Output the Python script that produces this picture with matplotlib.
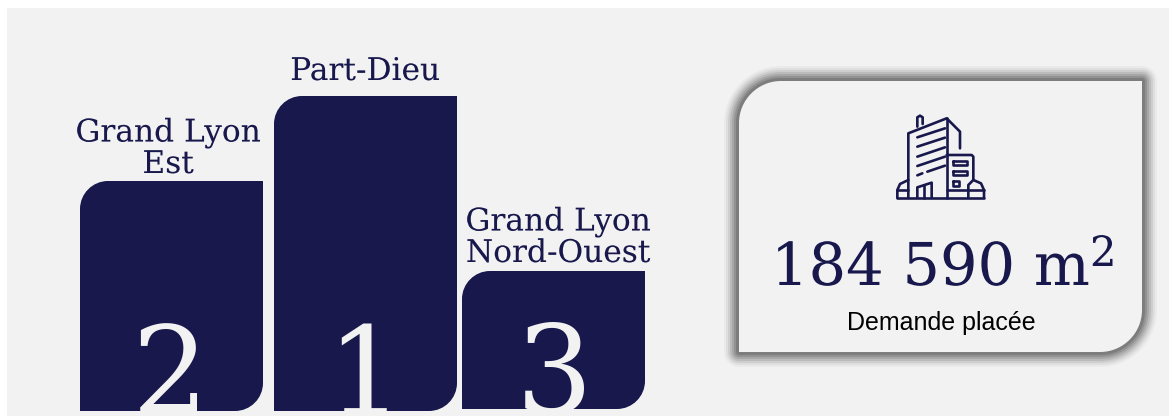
import matplotlib
matplotlib.use("Agg")
import matplotlib.patheffects as pe
import matplotlib.pyplot as plt
from matplotlib.patches import PathPatch, Rectangle
from matplotlib.path import Path

W, H = 1169, 416
NAVY = "#18184d"
PANEL = "#f2f2f2"
SERIF = "DejaVu Serif"

# podium, all in pixels of the picture
ranks = ["2", "1", "3"]
names = ["Grand Lyon\nEst", "Part-Dieu", "Grand Lyon\nNord-Ouest"]
heights = [230, 315, 138]
bar_left = [80, 274, 462]
bar_bottom = [411, 411, 409]
bar_width = 183
name_center = [168, 365, 558]
name_baseline = [173, 80, 262]
rank_center = [170, 365, 554]

total_text = "184 590 m"
total_label = "Demande placée"

# icon strokes, pixels of the icon box
icon_lines = [
    [(85, 293), (85, 100), (200, 55), (240, 95), (240, 145)],
    [(200, 55), (200, 293)],
    [(112, 80), (112, 52), (120, 47), (128, 52), (128, 72)],
    [(112, 112), (195, 85)],
    [(112, 140), (195, 113)],
    [(112, 170), (195, 142)],
    [(112, 198), (195, 170)],
    [(112, 226), (127, 220)],
    [(142, 215), (195, 197)],
    [(200, 165), (275, 165), (280, 170), (280, 238)],
    [(218, 182), (262, 182), (262, 195), (218, 195), (218, 182)],
    [(218, 212), (262, 212), (262, 225), (218, 225), (218, 212)],
    [(218, 242), (237, 242), (237, 257), (218, 257), (218, 242)],
    [(112, 293), (112, 262), (155, 248), (155, 293)],
    [(133, 256), (133, 293)],
    [(52, 293), (312, 293)],
    [(52, 293), (52, 270), (60, 252), (85, 240)],
    [(52, 270), (85, 270)],
    [(312, 293), (312, 270), (303, 250), (280, 240), (265, 255), (265, 293)],
    [(200, 270), (312, 270)],
]


def podium_path(x0, y0, x1, y1, r):
    # top left and bottom right corners are rounded
    k = 0.45 * r
    verts = [(x0, y1), (x0, y0 + r), (x0, y0 + k), (x0 + k, y0), (x0 + r, y0), (x1, y0),
             (x1, y1 - r), (x1, y1 - k), (x1 - k, y1), (x1 - r, y1), (x0, y1)]
    codes = [Path.MOVETO, Path.LINETO, Path.CURVE4, Path.CURVE4, Path.CURVE4, Path.LINETO,
             Path.LINETO, Path.CURVE4, Path.CURVE4, Path.CURVE4, Path.CLOSEPOLY]
    return Path(verts, codes)


def thin(color, lw):
    # the original face is lighter than DejaVu Serif
    return [pe.withStroke(linewidth=lw, foreground=color)]


def main():
    fig = plt.figure(figsize=(W / 100, H / 100), dpi=100, facecolor="white")
    ax = fig.add_axes([0, 0, 1, 1])
    ax.set_xlim(0, W)
    ax.set_ylim(H, 0)
    ax.axis("off")

    ax.add_patch(Rectangle((7, 8), W - 7, H - 8, fc=PANEL, ec="none"))

    # podium
    for i, rank in enumerate(ranks):
        x, b, h = bar_left[i], bar_bottom[i], heights[i]
        top = b - h
        ax.add_patch(PathPatch(podium_path(x, top, x + bar_width, b, 28), fc=NAVY, ec="none"))
        t = ax.text(rank_center[i], b + 3, rank, color=PANEL, fontsize=87,
                    family=SERIF, ha="center", va="baseline", clip_on=True)
        t.set_clip_path(Rectangle((x, top), bar_width, h, transform=ax.transData))
        ax.text(name_center[i], name_baseline[i], names[i], color=NAVY, fontsize=22.5,
                family=SERIF, ha="center", va="baseline", linespacing=1.02,
                path_effects=thin(PANEL, 0.5))

    # card with its shadow
    card = podium_path(739, 81, 1142, 352, 42)
    for lw, alpha in zip([30, 26, 22, 18, 14, 10, 6], [.03, .05, .07, .09, .10, .12, .14]):
        ax.add_patch(PathPatch(card, fc="none", ec="black", lw=lw * 0.72, alpha=alpha, joinstyle="round"))
    ax.add_patch(PathPatch(card, fc=PANEL, ec="none"))

    for line in icon_lines:
        xs = [880 + p[0] / 3 for p in line]
        ys = [100 + p[1] / 3 for p in line]
        ax.plot(xs, ys, color=NAVY, lw=1.9, solid_joinstyle="round", solid_capstyle="round")

    ax.text(771, 285, total_text, color=NAVY, fontsize=42.5, family=SERIF, ha="left", va="baseline",
            path_effects=thin(PANEL, 0.7))
    ax.text(1090, 266, "2", color=NAVY, fontsize=30, family=SERIF, ha="left", va="baseline",
            path_effects=thin(PANEL, 0.5))
    ax.text(941.5, 330, total_label, color="black", fontsize=18, family="Liberation Sans", ha="center", va="baseline")

    fig.savefig("out.png", dpi=100, facecolor="white")


if __name__ == "__main__":
    main()
